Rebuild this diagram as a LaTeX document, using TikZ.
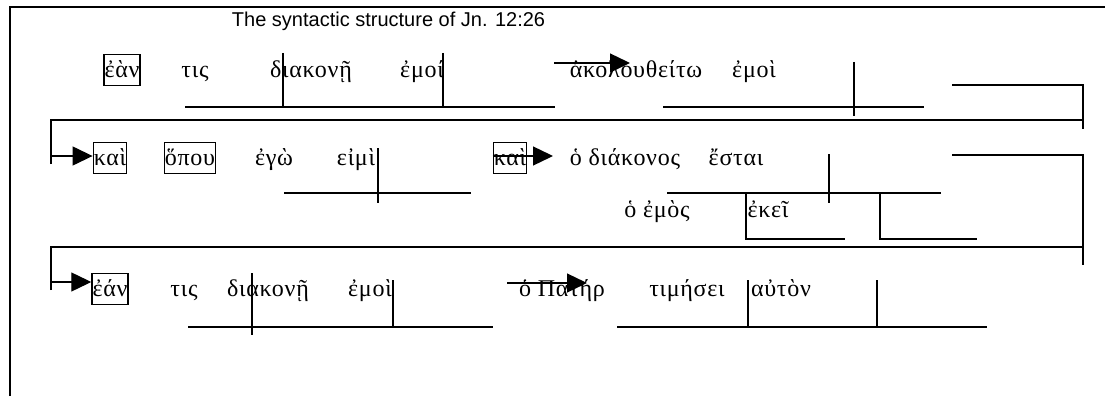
\documentclass[tikz,border=0pt]{standalone}
\usepackage{fontspec}
\setmainfont{Liberation Sans}
\newfontfamily\grk[LetterSpace=3]{Liberation Serif}
\usetikzlibrary{backgrounds}
\usetikzlibrary{arrows.meta}

\begin{document}
\begin{tikzpicture}[x=1pt, y=-1pt, line width=1.3pt, show background rectangle, inner frame sep=0pt, background rectangle/.style={fill=white}, color=black,
  >={Triangle[length=20pt,width=19pt]},
  greek/.style={font=\grk\fontsize{24}{28}\selectfont, inner xsep=0.5pt, inner ysep=2pt, text height=21pt, text depth=6pt},
  gbox/.style={greek, draw, line width=1.5pt}]
\useasboundingbox (0,0) rectangle (1105,396);
\draw (10,396) -- (10,7) -- (1105,7);
\node[anchor=base west, font=\fontsize{20}{24}\selectfont] (title) at (228,27) {The syntactic structure of Jn. 12:26};

% 1st row
\node[gbox] (ean1) at (122,70) {ἐὰν};
\node[greek] (tis1) at (195,70) {τις};
\node[greek] (diak1) at (311,70) {διακονῇ};
\node[greek] (emoi1) at (422,70) {ἐμοί};
\node[greek] (akol) at (636,70) {ἀκολουθείτω};
\node[greek] (emoi2) at (754,70) {ἐμοὶ};

% 2nd row
\node[gbox] (kai1) at (110,158) {καὶ};
\node[gbox] (hopou) at (190,158) {ὅπου};
\node[greek] (ego) at (274,158) {ἐγὼ};
\node[greek] (eimi) at (356,158) {εἰμὶ};
\node[gbox] (kai2) at (510,158) {καὶ};
\node[greek] (diakonos) at (625,158) {ὁ διάκονος};
\node[greek] (estai) at (736,158) {ἔσται};
\node[greek] (emos) at (657,210) {ὁ ἐμὸς};
\node[greek] (ekei) at (768,210) {ἐκεῖ};

% 3rd row
\node[gbox] (ean3) at (110,289) {ἐάν};
\node[greek] (tis3) at (184,289) {τις};
\node[greek] (diak3) at (268,289) {διακονῇ};
\node[greek] (emoi3) at (370,289) {ἐμοὶ};
\node[greek] (pater) at (562,289) {ὁ Πατήρ};
\node[greek] (timesei) at (687,289) {τιμήσει};
\node[greek] (auton) at (781,289) {αὐτὸν};

% base lines
\draw (185,107) -- (555,107);
\draw (283,53) -- (283,107);
\draw (443,53) -- (443,107);
\draw (663,107) -- (924,107);
\draw (854,62) -- (854,116);
\draw (952,85) -- (1083,85) -- (1083,129);
\draw (51,164) -- (51,120) -- (1083,120);

\draw (284,193) -- (471,193);
\draw (378,148) -- (378,203);
\draw (667,193) -- (941,193);
\draw (829,154) -- (829,203);
\draw (746,193) -- (746,239) -- (845,239);
\draw (880,193) -- (880,239) -- (977,239);
\draw (952,155) -- (1083,155) -- (1083,265);
\draw (51,290) -- (51,247) -- (1083,247);

\draw (188,327) -- (493,327);
\draw (252,273) -- (252,335);
\draw (393,280) -- (393,327);
\draw (617,327) -- (987,327);
\draw (748,280) -- (748,327);
\draw (877,280) -- (877,327);

% 2nd pass: draw arrows
\coordinate (in2) at (51,156);
\coordinate (in3) at (51,282);
\coordinate (a1s) at (554,63);
\coordinate (a1e) at (630,63);
\coordinate (a2e) at (553,156);
\coordinate (a3s) at (507,283);
\coordinate (a3e) at (587,283);
\draw [->] (in2) -- (in2 -| kai1.west);
\draw [->] (in3) -- (in3 -| ean3.west);
\draw [->] (a1s) -- (a1e);
\draw [->] (kai2.west |- a2e) -- (a2e);
\draw [->] (a3s) -- (a3e);

\end{tikzpicture}
\end{document}
